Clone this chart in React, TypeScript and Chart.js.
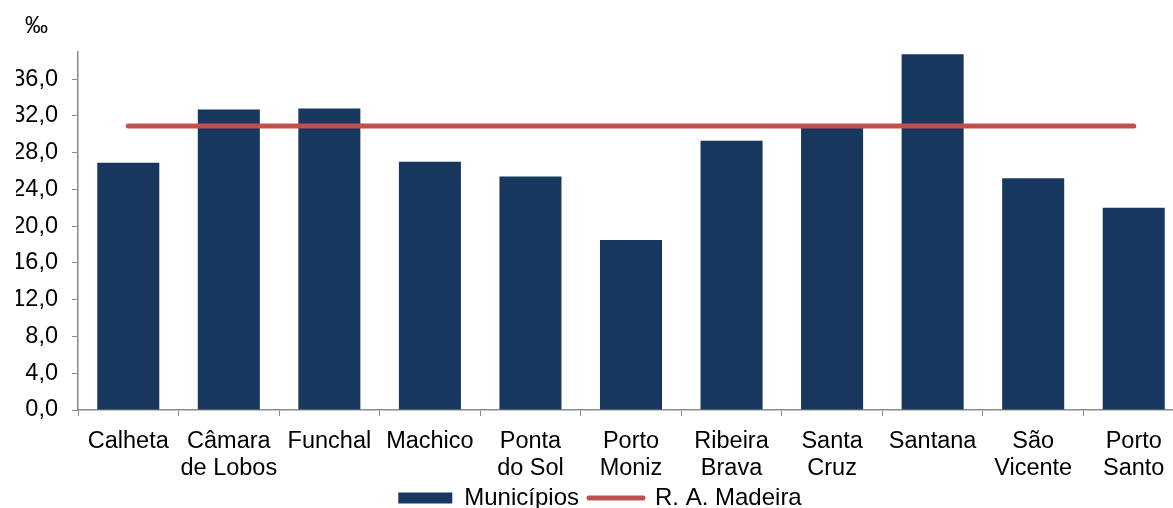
import React, { useEffect, useRef } from "react";
import { Chart, registerables } from "chart.js";

Chart.register(...registerables);

const categories: string[][] = [
  ["Calheta"],
  ["Câmara", "de Lobos"],
  ["Funchal"],
  ["Machico"],
  ["Ponta", "do Sol"],
  ["Porto", "Moniz"],
  ["Ribeira", "Brava"],
  ["Santa", "Cruz"],
  ["Santana"],
  ["São", "Vicente"],
  ["Porto", "Santo"],
];
const municipios: number[] = [26.9, 32.7, 32.8, 27.0, 25.4, 18.5, 29.3, 30.7, 38.7, 25.2, 22.0];
const raMadeira: number[] = [30.9, 30.9, 30.9, 30.9, 30.9, 30.9, 30.9, 30.9, 30.9, 30.9, 30.9];
const yTicks: number[] = [0, 4, 8, 12, 16, 20, 24, 28, 32, 36];
const unitLabel = "‰";

const FONT = "'Liberation Sans', Arial, sans-serif";
const BAR = "#17375E";
const RED = "#C0504D";
const AXIS = "#8c8c8c";
const W = 1184;
const H = 520;

export default function App() {
  const ref = useRef<HTMLCanvasElement | null>(null);

  useEffect(() => {
    document.body.style.margin = "0";
    document.body.style.overflow = "hidden";
    if (!ref.current) return;

    const unitPlugin = {
      id: "unitLabel",
      afterDraw(chart: any) {
        const ctx = chart.ctx;
        ctx.save();
        ctx.fillStyle = "#000";
        ctx.font = `23px ${FONT}`;
        ctx.textBaseline = "alphabetic";
        ctx.textAlign = "left";
        ctx.fillText(unitLabel, 25, 33);
        ctx.restore();
      },
    };

    const chart = new Chart(ref.current, {
      type: "bar",
      data: {
        labels: categories,
        datasets: [
          {
            type: "line",
            label: "R. A. Madeira",
            data: raMadeira,
            borderColor: RED,
            backgroundColor: RED,
            borderWidth: 5,
            borderCapStyle: "round",
            pointRadius: 0,
            order: 0,
          } as any,
          {
            type: "bar",
            label: "Municípios",
            data: municipios,
            backgroundColor: BAR,
            borderWidth: 0,
            categoryPercentage: 1,
            barPercentage: 0.617,
            order: 1,
          } as any,
        ],
      },
      options: {
        animation: false,
        responsive: false,
        maintainAspectRatio: false,
        layout: { padding: { top: 51.5, left: 16, right: 0, bottom: 0 } },
        scales: {
          x: {
            offset: true,
            grid: {
              offset: true,
              drawOnChartArea: false,
              drawTicks: true,
              tickLength: 6,
              color: AXIS,
            },
            border: { color: AXIS, width: 1.5 },
            ticks: {
              color: "#000",
              font: { family: FONT, size: 23.5, lineHeight: 1.149 },
              padding: 12,
              maxRotation: 0,
              autoSkip: false,
            },
            afterFit: (s: any) => {
              s.height = 66;
            },
          },
          y: {
            min: 0,
            max: 39,
            afterBuildTicks: (s: any) => {
              s.ticks = yTicks.map((v) => ({ value: v }));
            },
            grid: {
              drawOnChartArea: false,
              drawTicks: true,
              tickLength: 6,
              color: AXIS,
            },
            border: { color: AXIS, width: 1.5 },
            ticks: {
              color: "#000",
              font: { family: FONT, size: 23.5 },
              padding: 14,
              callback: (v: any) => Number(v).toFixed(1).replace(".", ","),
            },
            afterFit: (s: any) => {
              s.width = 62;
            },
          },
        },
        plugins: {
          legend: {
            position: "bottom",
            labels: {
              color: "#000",
              font: { family: FONT, size: 24 },
              usePointStyle: true,
              pointStyleWidth: 54,
              boxHeight: 11,
              padding: 10,
              generateLabels: () => [
                {
                  text: "Municípios",
                  fillStyle: BAR,
                  strokeStyle: BAR,
                  lineWidth: 0,
                  pointStyle: "rect",
                  datasetIndex: 1,
                  hidden: false,
                  fontColor: "#000",
                },
                {
                  text: "R. A. Madeira",
                  fillStyle: RED,
                  strokeStyle: RED,
                  lineWidth: 5,
                  lineCap: "round",
                  pointStyle: "line",
                  datasetIndex: 0,
                  hidden: false,
                  fontColor: "#000",
                },
              ],
            },
          },
          tooltip: { enabled: false },
        },
      },
      plugins: [unitPlugin],
    } as any);

    return () => chart.destroy();
  }, []);

  return (
    <div style={{ width: W, height: H, overflow: "hidden" }}>
      <canvas ref={ref} width={W} height={H} style={{ display: "block" }} />
    </div>
  );
}
